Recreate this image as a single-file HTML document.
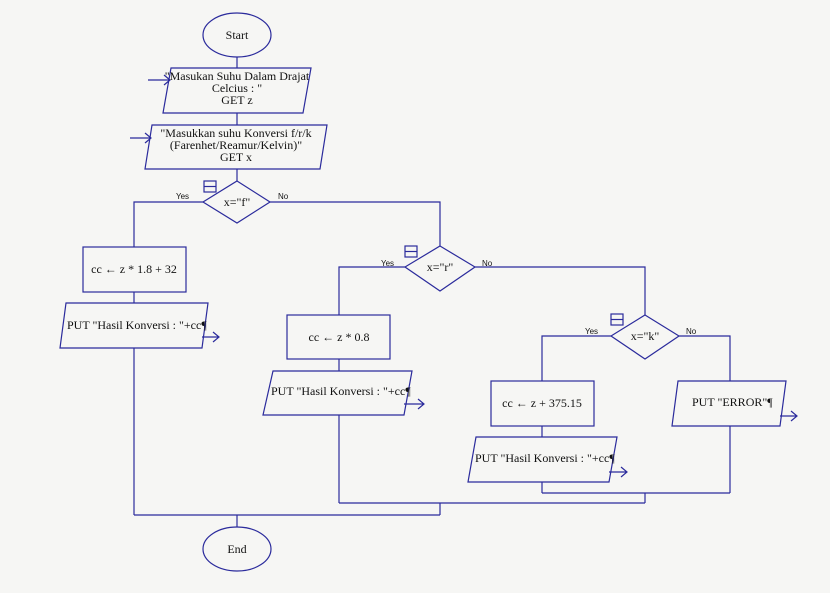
<!DOCTYPE html>
<html><head><style>
html,body{margin:0;padding:0;background:#f6f6f4;}
svg{display:block;}
text{font-family:"Liberation Serif",serif;font-size:12px;fill:#111;}
.s{font-family:"Liberation Sans",sans-serif;font-size:8px;}
</style></head><body>
<svg width="830" height="593" viewBox="0 0 830 593" xmlns="http://www.w3.org/2000/svg">
<defs><marker id="a" markerWidth="6" markerHeight="6" refX="5" refY="3" orient="auto"><path d="M0,0 L5,3 L0,6" fill="none" stroke="#2b2b9c" stroke-width="1"/></marker></defs>
<g fill="none" stroke="#2b2b9c" stroke-width="1.2">
<ellipse cx="237" cy="35" rx="34" ry="22"/>
<line x1="237" y1="57" x2="237" y2="68"/>
<polygon points="171,68 311,68 303,113 163,113"/>
<path d="M148,80 H170 M164,75 L170,80 L164,85"/>
<line x1="237" y1="113" x2="237" y2="125"/>
<polygon points="152,125 327,125 320,169 145,169"/>
<path d="M130,138 H151 M145,133 L151,138 L145,143"/>
<line x1="237" y1="169" x2="237" y2="181"/>
<polygon points="237,181 270,202 237,223 203,202"/>
<rect x="204" y="181" width="12" height="11"/><line x1="204" y1="186.5" x2="216" y2="186.5"/>
<path d="M203,202 H134 V247"/>
<path d="M270,202 H440 V246"/>
<rect x="83" y="247" width="103" height="45"/>
<line x1="134" y1="292" x2="134" y2="303"/>
<polygon points="66,303 208,303 202,348 60,348"/>
<path d="M202,337 H219 M213,332 L219,337 L213,342"/>
<line x1="134" y1="348" x2="134" y2="515"/>
<polygon points="440,246 475,267 440,291 405,267"/>
<rect x="405" y="246" width="12" height="11"/><line x1="405" y1="251.5" x2="417" y2="251.5"/>
<path d="M405,267 H339 V315"/>
<path d="M475,267 H645 V315"/>
<rect x="287" y="315" width="103" height="44"/>
<line x1="339" y1="359" x2="339" y2="371"/>
<polygon points="273,371 412,371 404,415 263,415"/>
<path d="M404,404 H424 M418,399 L424,404 L418,409"/>
<line x1="339" y1="415" x2="339" y2="503"/>
<polygon points="645,315 679,336 645,359 611,336"/>
<rect x="611" y="314" width="12" height="11"/><line x1="611" y1="319.5" x2="623" y2="319.5"/>
<path d="M611,336 H542 V381"/>
<path d="M679,336 H730 V381"/>
<rect x="491" y="381" width="103" height="45"/>
<line x1="542" y1="426" x2="542" y2="437"/>
<polygon points="476,437 617,437 609,482 468,482"/>
<path d="M609,472 H627 M621,467 L627,472 L621,477"/>
<polygon points="678,381 786,381 780,426 672,426"/>
<path d="M780,416 H797 M791,411 L797,416 L791,421"/>
<line x1="542" y1="482" x2="542" y2="493"/>
<line x1="730" y1="426" x2="730" y2="493"/>
<line x1="542" y1="493" x2="730" y2="493"/>
<line x1="645" y1="493" x2="645" y2="503"/>
<line x1="339" y1="503" x2="645" y2="503"/>
<line x1="440" y1="503" x2="440" y2="515"/>
<line x1="134" y1="515" x2="440" y2="515"/>
<line x1="237" y1="515" x2="237" y2="527"/>
<ellipse cx="237" cy="549" rx="34" ry="22"/>
</g>
<text x="237" y="39" text-anchor="middle">Start</text>
<text x="237" y="80" text-anchor="middle">"Masukan Suhu Dalam Drajat</text>
<text x="237" y="92" text-anchor="middle">Celcius : "</text>
<text x="237" y="104" text-anchor="middle">GET z</text>
<text x="236" y="137" text-anchor="middle">"Masukkan suhu Konversi f/r/k</text>
<text x="236" y="149" text-anchor="middle">(Farenhet/Reamur/Kelvin)"</text>
<text x="236" y="161" text-anchor="middle">GET x</text>
<text x="237" y="206" text-anchor="middle">x="f"</text>
<text class="s" x="176" y="199">Yes</text>
<text class="s" x="278" y="199">No</text>
<text x="134" y="273" text-anchor="middle">cc ← z * 1.8 + 32</text>
<text x="67" y="329">PUT "Hasil Konversi :  "+cc¶</text>
<text x="440" y="271" text-anchor="middle">x="r"</text>
<text class="s" x="381" y="266">Yes</text>
<text class="s" x="482" y="266">No</text>
<text x="339" y="341" text-anchor="middle">cc ← z * 0.8</text>
<text x="271" y="395">PUT "Hasil Konversi :  "+cc¶</text>
<text x="645" y="340" text-anchor="middle">x="k"</text>
<text class="s" x="585" y="334">Yes</text>
<text class="s" x="686" y="334">No</text>
<text x="542" y="407" text-anchor="middle">cc ← z + 375.15</text>
<text x="475" y="462">PUT "Hasil Konversi :  "+cc¶</text>
<text x="692" y="406">PUT "ERROR"¶</text>
<text x="237" y="553" text-anchor="middle">End</text>
</svg>
</body></html>
